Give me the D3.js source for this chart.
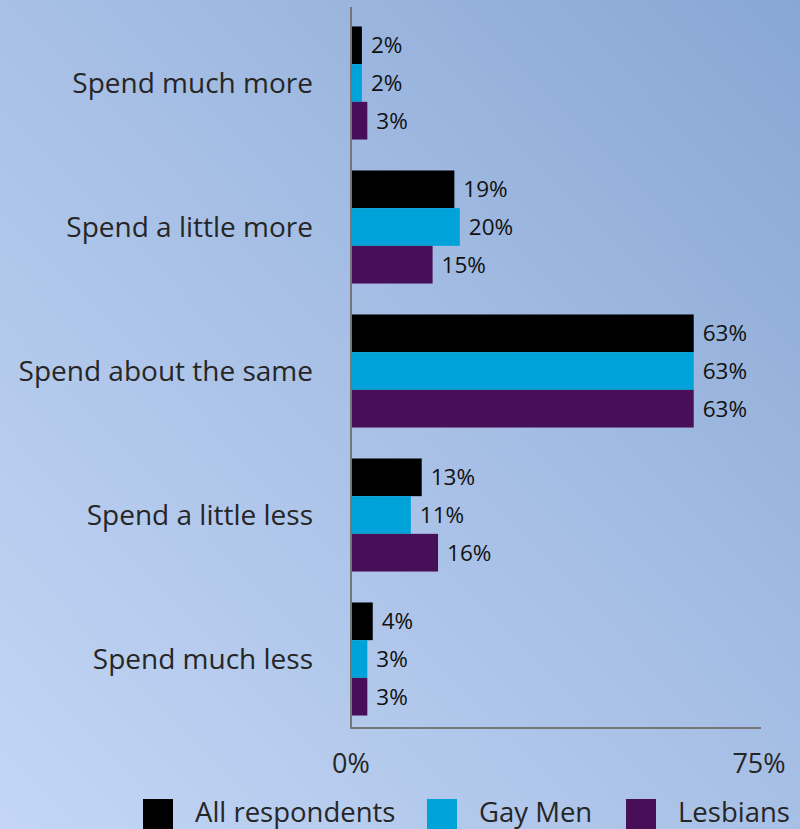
<!DOCTYPE html>
<html>
<head>
<meta charset="utf-8">
<script src="https://cdn.jsdelivr.net/npm/d3@7"></script>
<style>
  html, body { margin: 0; padding: 0; }
  body { width: 800px; height: 829px; overflow: hidden; }
  svg { display: block; font-family: "Open Sans", sans-serif; }
</style>
</head>
<body>
<svg id="chart" width="800" height="829"></svg>
<script>
const categories = ["Spend much more", "Spend a little more", "Spend about the same", "Spend a little less", "Spend much less"];
const seriesNames = ["All respondents", "Gay Men", "Lesbians"];
const allRespondents = [2, 19, 63, 13, 4];
const gayMen = [2, 20, 63, 11, 3];
const lesbians = [3, 15, 63, 16, 3];
const tickValues = [0, 75];
const colors = ["#000000", "#00a3d9", "#460f58"];

const seriesValues = [allRespondents, gayMen, lesbians];
const rows = categories.map((c, i) => ({
  category: c,
  values: seriesNames.map((s, j) => ({ series: s, value: seriesValues[j][i], idx: j }))
}));

const svg = d3.select("#chart");
const W = 800, H = 829;

// background gradient
const defs = svg.append("defs");
const grad = defs.append("linearGradient").attr("id", "bg")
  .attr("x1", "0").attr("y1", "1").attr("x2", "1").attr("y2", "0");
grad.append("stop").attr("offset", "0%").attr("stop-color", "#c3d6f5");
grad.append("stop").attr("offset", "50%").attr("stop-color", "#a8c0e6");
grad.append("stop").attr("offset", "100%").attr("stop-color", "#88a7d3");
svg.append("rect").attr("width", W).attr("height", H).attr("fill", "url(#bg)");

const x0 = 351, x1 = 759;
const yTop = 11, yBot = 731;

const x = d3.scaleLinear().domain([0, 75]).range([x0, x1]);
const y = d3.scaleBand().domain(categories).range([yTop, yBot]).paddingInner(0.215).paddingOuter(0.1075);
const ySub = d3.scaleBand().domain(seriesNames).range([0, y.bandwidth()]);

const groups = svg.append("g").selectAll("g").data(rows).join("g")
  .attr("transform", d => `translate(0,${y(d.category)})`);

groups.selectAll("rect").data(d => d.values).join("rect")
  .attr("x", x(0))
  .attr("y", d => ySub(d.series))
  .attr("width", d => x(d.value) - x(0))
  .attr("height", ySub.bandwidth())
  .attr("fill", d => colors[d.idx]);

groups.selectAll("text").data(d => d.values).join("text")
  .attr("x", d => x(d.value) + 9)
  .attr("y", d => ySub(d.series) + ySub.bandwidth() / 2)
  .attr("dy", "0.36em")
  .attr("font-size", 22.5)
  .attr("fill", "#111")
  .text(d => d.value + "%");

// category labels
svg.append("g").selectAll("text").data(categories).join("text")
  .attr("x", 313)
  .attr("y", d => y(d) + y.bandwidth() / 2)
  .attr("dy", "0.35em")
  .attr("text-anchor", "end")
  .attr("font-size", 28)
  .attr("fill", "#262626")
  .text(d => d);

// axes lines
svg.append("line").attr("x1", x0).attr("x2", x0).attr("y1", 7).attr("y2", 729)
  .attr("stroke", "#767676").attr("stroke-width", 2);
svg.append("line").attr("x1", x0 - 1).attr("x2", 761).attr("y1", 728).attr("y2", 728)
  .attr("stroke", "#767676").attr("stroke-width", 2);

// x tick labels
svg.append("g").selectAll("text").data(tickValues).join("text")
  .attr("x", d => x(d))
  .attr("y", 773)
  .attr("text-anchor", "middle")
  .attr("font-size", 27)
  .attr("fill", "#262626")
  .text(d => d + "%");

// legend along the bottom edge
const legendX = [143, 427, 626];
const legend = svg.append("g").selectAll("g").data(seriesNames).join("g")
  .attr("transform", (d, i) => `translate(${legendX[i]},799)`);
legend.append("rect").attr("width", 30).attr("height", 30).attr("fill", (d, i) => colors[i]);
legend.append("text").attr("x", 52).attr("y", 22.5)
  .attr("font-size", 27.5).attr("fill", "#262626").text(d => d);
</script>
</body>
</html>
